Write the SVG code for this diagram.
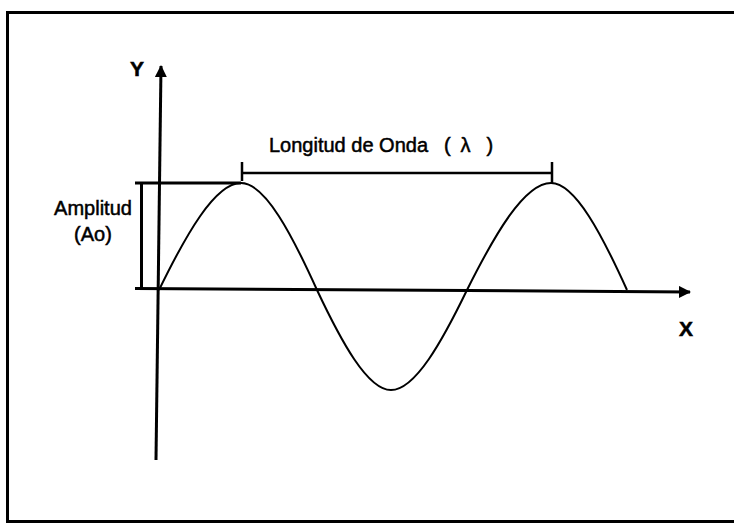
<svg xmlns="http://www.w3.org/2000/svg" width="734" height="524" viewBox="0 0 734 524">
  <defs>
    <style>
      .ln { fill: none; stroke: #000; stroke-linecap: butt; }
      .txt { font-family: "Liberation Sans", Arial, sans-serif; fill: #000; stroke: #000; stroke-width: 0.5px; }
      .lbl { font-size: 20px; }
      .ax { font-size: 21px; font-weight: bold; }
    </style>
    <marker id="arrow" viewBox="0 0 12 12" refX="11" refY="6" markerWidth="12" markerHeight="12" markerUnits="userSpaceOnUse" orient="auto">
      <path d="M0,0 L12,6 L0,12 z" fill="#000"/>
    </marker>
  </defs>
  <rect width="734" height="524" fill="#fff"/>
  <g id="frame">
    <path class="ln" d="M734,12.5 H7.5 V521.5 H734" stroke-width="3"/>
  </g>
  <g id="connectors">
    <path id="y-axis" class="ln" d="M156,460 L161,66" stroke-width="3" marker-end="url(#arrow)"/>
    <path id="x-axis" class="ln" d="M135,288.5 L690,292" stroke-width="3" marker-end="url(#arrow)"/>
    <path id="amplitude-bracket" class="ln" d="M135,183 H241 M141.5,183 V289" stroke-width="3"/>
    <path id="wavelength-bracket" class="ln" d="M242,173 H552 M242,162 V181 M552,162 V183" stroke-width="2.5"/>
  </g>
  <g id="wave">
    <path class="ln" stroke-width="2" d="M159,290 C185.7,235.2 214.9,183 241,183 C265.2,183 292.2,235.2 317,290 C341.1,341.2 367.5,390 391,390 C415.2,390 442.2,341.2 467,290 C494.4,235.2 524.3,183 551,183 C575.2,183 602.2,235.2 627,290"/>
  </g>
  <g id="label-y">
    <text class="txt ax" x="137" y="76" text-anchor="middle">Y</text>
  </g>
  <g id="label-x">
    <text class="txt ax" x="686" y="336" text-anchor="middle">X</text>
  </g>
  <g id="label-amplitude">
    <text class="txt lbl" x="93" y="215" text-anchor="middle">Amplitud</text>
    <text class="txt lbl" x="93" y="241" text-anchor="middle">(Ao)</text>
  </g>
  <g id="label-wavelength">
    <text class="txt lbl" x="269" y="152">Longitud de Onda <tspan x="444">(</tspan><tspan x="455"> λ</tspan><tspan x="481"> )</tspan></text>
  </g>
</svg>
